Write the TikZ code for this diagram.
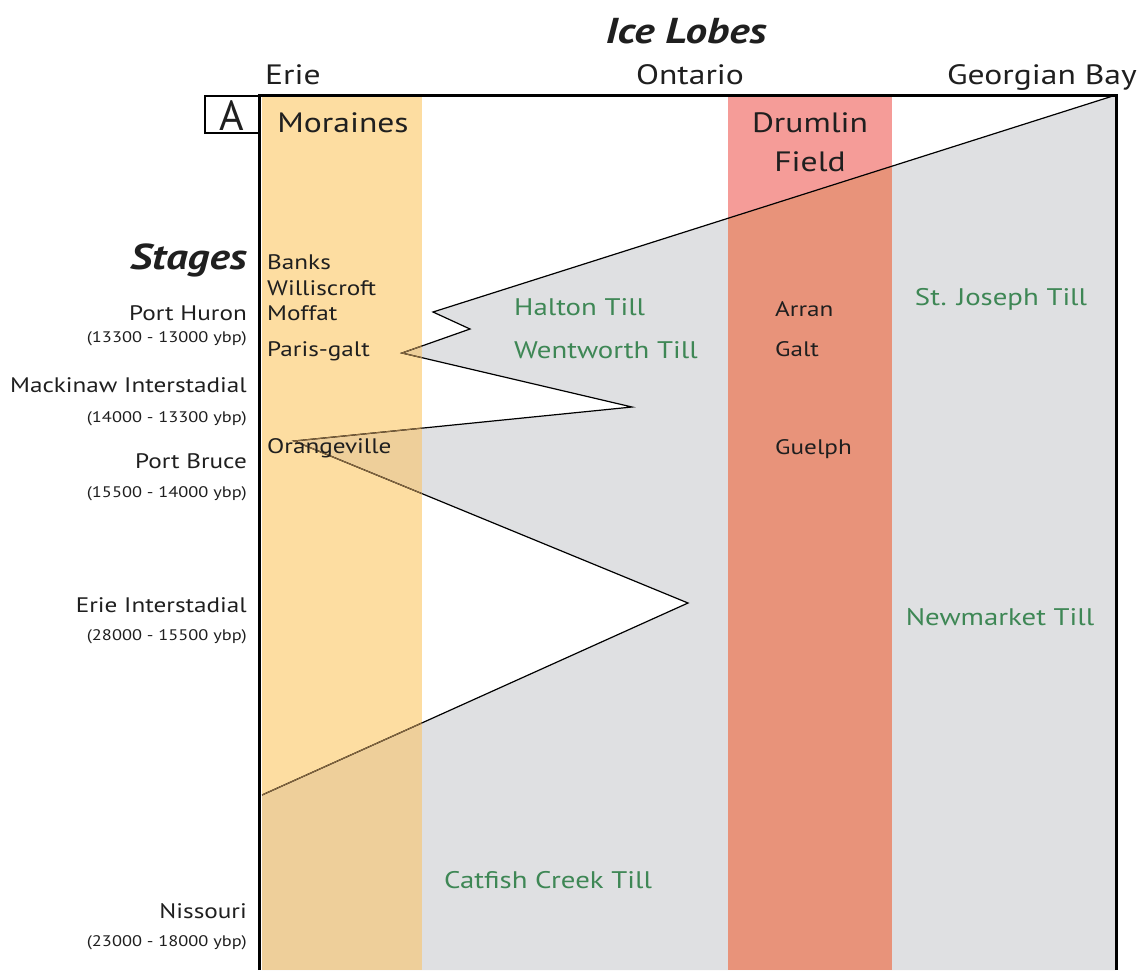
\documentclass[tikz,border=0pt]{standalone}
\usepackage{fontspec}
\setmainfont[FakeStretch=1.2]{PT Sans}
\usepackage{tikz}
\definecolor{icegray}{RGB}{223,224,226}
\definecolor{moraine}{RGB}{253,221,161}
\definecolor{moraineice}{RGB}{238,207,154}
\definecolor{drumlin}{RGB}{245,156,152}
\definecolor{drumlinice}{RGB}{232,147,122}
\definecolor{tillgreen}{RGB}{62,135,85}
\definecolor{linebrown}{RGB}{140,108,66}
\tikzset{
  lbl/.style={inner sep=0pt, text=black!88},
  heading/.style={lbl, font=\fontsize{36}{38}\selectfont\bfseries\itshape},
  lobe/.style={lbl, font=\fontsize{28}{30}\selectfont},
  stagename/.style={lbl, anchor=east, font=\fontsize{21}{23}\selectfont},
  stagedate/.style={lbl, anchor=east, font=\fontsize{15.3}{17}\selectfont},
  morname/.style={lbl, anchor=west, font=\fontsize{21}{23}\selectfont},
  till/.style={lbl, text=tillgreen, font=\fontsize{24}{26}\selectfont},
  iceline/.style={line width=1.2pt, line join=miter}
}
\def\icepath{(1116,95) -- (433,312) -- (470,329) -- (402,353) -- (632,407) -- (294,441) -- (688,603) -- (262,795) -- (262,970) -- (1116,970) -- cycle}
\def\iceedge{(1116,95) -- (433,312) -- (470,329) -- (402,353) -- (632,407) -- (294,441) -- (688,603) -- (262,795)}

\begin{document}
\begin{tikzpicture}[x=1pt, y=-1pt]
			%%%%% START %%%%%
			\useasboundingbox (0,0) rectangle (1147,970);
			
			% ice and columns
			\fill[icegray] \icepath;
			\fill[moraine] (262,96) rectangle (422,970);
			\fill[drumlin] (728,96) rectangle (892,970);
			\begin{scope}
				\clip \icepath;
				\fill[moraineice] (262,96) rectangle (422,970);
				\fill[drumlinice] (728,96) rectangle (892,970);
			\end{scope}
			
			% ice margin
			\draw[iceline] \iceedge;
			\begin{scope}
				\clip (262,96) rectangle (422,970);
				\draw[iceline, line width=1pt, color=linebrown] \iceedge;
			\end{scope}
			
			% frame
			\draw[line width=3pt] (259,970) -- (259,95) -- (1116,95) -- (1116,970);
			\draw[line width=1.4pt] (259,96) -- (205,96) -- (205,133) -- (259,133);
			\node[lbl, font=\fontsize{42}{44}\selectfont\addfontfeature{FakeStretch=1}] (panel) at (232,116) {A};
			
			% headings
			\node[heading] (icelobes) at (686,31) {Ice Lobes};
			\node[heading, anchor=east] (stages) at (247,260) {Stages};
			\node[lobe, anchor=base west] (erie) at (265,84) {Erie};
			\node[lobe, anchor=base] (ontario) at (690,84) {Ontario};
			\node[lobe, anchor=base east] (georgian) at (1137,84) {Georgian Bay};
			\node[lobe] (moraines) at (343,123) {Moraines};
			\node[lobe] (drumlin) at (810,123) {Drumlin};
			\node[lobe] (field) at (810,162) {Field};
			
			% stages
			\node[stagename] (porthuron) at (247,313) {Port Huron};
			\node[stagedate] (porthurondate) at (247,339) {(13300 - 13000 ybp)};
			\node[stagename] (mackinaw) at (247,385) {Mackinaw Interstadial};
			\node[stagedate] (mackinawdate) at (247,419) {(14000 - 13300 ybp)};
			\node[stagename] (portbruce) at (247,461) {Port Bruce};
			\node[stagedate] (portbrucedate) at (247,494) {(15500 - 14000 ybp)};
			\node[stagename] (erieinter) at (247,605) {Erie Interstadial};
			\node[stagedate] (erieinterdate) at (247,637) {(28000 - 15500 ybp)};
			\node[stagename] (nissouri) at (247,911) {Nissouri};
			\node[stagedate] (nissouridate) at (247,943) {(23000 - 18000 ybp)};
			
			% moraines
			\node[morname] (banks) at (267,262) {Banks};
			\node[morname] (williscroft) at (267,288) {Williscroft};
			\node[morname] (moffat) at (267,313) {Moffat};
			\node[morname] (parisgalt) at (267,351) {Paris-galt};
			\node[morname] (orangeville) at (267,448) {Orangeville};
			\node[morname] (arran) at (775,309) {Arran};
			\node[morname] (galt) at (775,349) {Galt};
			\node[morname] (guelph) at (775,449) {Guelph};
			
			% tills
			\node[till, anchor=west] (halton) at (514,307) {Halton Till};
			\node[till, anchor=west] (wentworth) at (514,350) {Wentworth Till};
			\node[till] (stjoseph) at (1001,299) {St. Joseph Till};
			\node[till] (newmarket) at (1000,617) {Newmarket Till};
			\node[till] (catfish) at (548,880) {Catfish Creek Till};
			%%%%% END %%%%%
\end{tikzpicture}
\end{document}
